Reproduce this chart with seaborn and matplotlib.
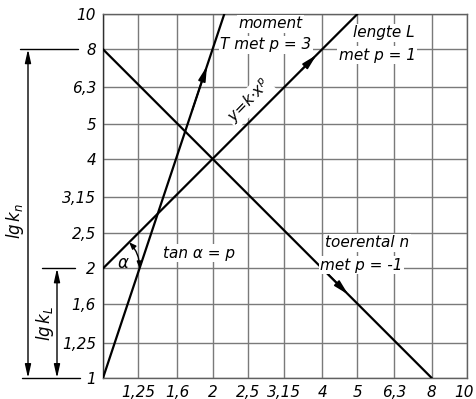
import numpy as np
import pandas as pd
import matplotlib
matplotlib.use("Agg")
import matplotlib.pyplot as plt
import matplotlib.transforms as mtrans
from matplotlib.patches import FancyArrowPatch
import seaborn as sns

# ---- data ----
tick_values = [1, 1.25, 1.6, 2, 2.5, 3.15, 4, 5, 6.3, 8, 10]
y_tick_labels = ["1", "1,25", "1,6", "2", "2,5", "3,15", "4", "5", "6,3", "8", "10"]
x_tick_labels = ["", "1,25", "1,6", "2", "2,5", "3,15", "4", "5", "6,3", "8", "10"]

moment_x = [1, 2.154]
moment_y = [1, 10]
lengte_x = [1, 5]
lengte_y = [2, 10]
toerental_x = [1, 8]
toerental_y = [8, 1]
k_n = 8
k_L = 2

df = pd.concat([
    pd.DataFrame({"x": moment_x, "y": moment_y, "serie": "moment"}),
    pd.DataFrame({"x": lengte_x, "y": lengte_y, "serie": "lengte"}),
    pd.DataFrame({"x": toerental_x, "y": toerental_y, "serie": "toerental"}),
])

sns.set_style("white")
plt.rcParams["font.family"] = ["DejaVu Sans"]
plt.rcParams["font.style"] = "italic"
plt.rcParams["text.color"] = "black"
plt.rcParams["xtick.color"] = "black"
plt.rcParams["ytick.color"] = "black"

fig = plt.figure(figsize=(4.76, 3.99), dpi=100)
ax = fig.add_axes([103 / 476, 1 - 378 / 399, 364 / 476, 364 / 399])

sns.lineplot(data=df, x="x", y="y", hue="serie", units="serie", estimator=None,
             palette=["black"] * 3, legend=False, lw=1.6, ax=ax, zorder=3, sort=False)

ax.set_xscale("log")
ax.set_yscale("log")
ax.set_xlim(1, 10)
ax.set_ylim(1, 10)
ax.minorticks_off()
ax.set_xticks(tick_values)
ax.set_xticklabels(x_tick_labels)
ax.set_yticks(tick_values)
ax.set_yticklabels(y_tick_labels)
ax.tick_params(axis="both", length=0, labelsize=11, pad=5, labelcolor="black")
for lab in ax.get_xticklabels() + ax.get_yticklabels():
    lab.set_fontstyle("italic")
xl = ax.get_xticklabels()[-1]
xl.set_transform(xl.get_transform() + mtrans.ScaledTranslation(-3 / 100, 0, fig.dpi_scale_trans))
ax.grid(True, color="#7a7a7a", lw=1.0)
ax.set_xlabel("")
ax.set_ylabel("")
for s in ax.spines.values():
    s.set_color("#606060")
    s.set_linewidth(1.0)
ax.spines["left"].set_color("#303030")


def arrow_on(xs, ys, frac, back=0.06):
    lx0, lx1 = np.log10(xs)
    ly0, ly1 = np.log10(ys)
    tip = (10 ** (lx0 + frac * (lx1 - lx0)), 10 ** (ly0 + frac * (ly1 - ly0)))
    tail = (10 ** (lx0 + (frac - back) * (lx1 - lx0)), 10 ** (ly0 + (frac - back) * (ly1 - ly0)))
    ax.annotate("", xy=tip, xytext=tail,
                arrowprops=dict(arrowstyle="-|>,head_length=0.9,head_width=0.22",
                                color="black", lw=1.2, shrinkA=0, shrinkB=0), zorder=4)


arrow_on(moment_x, moment_y, 0.857, back=0.12)
arrow_on(lengte_x, lengte_y, 0.839)
arrow_on(toerental_x, toerental_y, 0.746)

# alpha arc
arc = FancyArrowPatch(posA=(1.18, 2.36), posB=(1.26, 2.0), connectionstyle="arc3,rad=-0.2",
                      arrowstyle="<|-|>,head_length=4,head_width=1.6", color="black", lw=1.0,
                      shrinkA=0, shrinkB=0, zorder=4)
ax.add_patch(arc)

txt_kw = dict(fontsize=11, style="italic", ha="center", va="center", zorder=5, color="black",
              bbox=dict(fc="white", ec="none", pad=1.0))
ax.text(1.134, 2.07, "α", fontsize=12, style="italic", ha="center", va="center", zorder=5,
        color="black")
ax.text(2.89, 9.39, "moment", **txt_kw)
ax.text(2.80, 8.22, "T met p = 3", **txt_kw)
ax.text(5.92, 8.87, "lengte L", **txt_kw)
ax.text(5.67, 7.71, "met p = 1", **txt_kw)
ax.text(5.32, 2.35, "toerental n", **txt_kw)
ax.text(5.12, 2.04, "met p = -1", **txt_kw)
ax.text(1.84, 2.20, "tan α = p", **txt_kw)
ax.text(2.52, 5.75, r"y=k$\cdot$x$^p$", rotation=46, rotation_mode="anchor",
        **txt_kw)

# dimension lines on the left
tr = mtrans.blended_transform_factory(ax.transAxes, ax.transData)
def frac(px):
    return (px - 103) / 364

ax.plot([frac(20), frac(78)], [k_n, k_n], color="black", lw=1.0, transform=tr, clip_on=False)
ax.plot([frac(22), frac(80)], [1, 1], color="black", lw=1.0, transform=tr, clip_on=False)
ax.plot([frac(42), frac(75)], [k_L, k_L], color="black", lw=1.0, transform=tr, clip_on=False)
ax.annotate("", xy=(frac(28), k_n), xytext=(frac(28), 1), xycoords=tr, textcoords=tr,
            arrowprops=dict(arrowstyle="<|-|>,head_length=0.8,head_width=0.18", color="black",
                            lw=1.0, shrinkA=0, shrinkB=0), annotation_clip=False)
ax.annotate("", xy=(frac(57), k_L), xytext=(frac(57), 1), xycoords=tr, textcoords=tr,
            arrowprops=dict(arrowstyle="<|-|>,head_length=0.8,head_width=0.18", color="black",
                            lw=1.0, shrinkA=0, shrinkB=0), annotation_clip=False)
ax.text(frac(15), (378 - 221) / 364, r"$lg\,k_n$", rotation=90, fontsize=12, color="black",
        ha="center", va="center", transform=ax.transAxes)
ax.text(frac(45), (378 - 323) / 364, r"$lg\,k_L$", rotation=90, fontsize=12, color="black",
        ha="center", va="center", transform=ax.transAxes)

fig.savefig("out.png", dpi=100)
